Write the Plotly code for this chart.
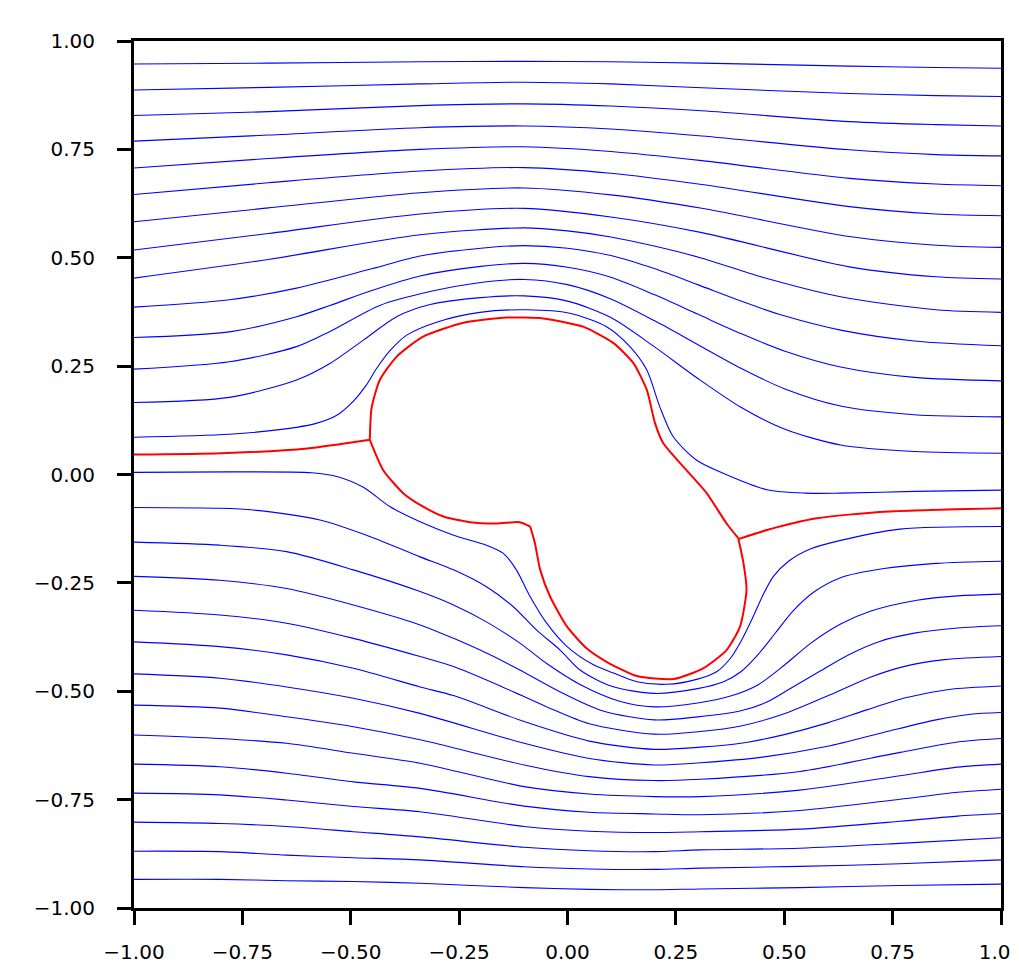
import plotly.graph_objects as go

# ---- tick labels ----
tick_values = [-1.0, -0.75, -0.5, -0.25, 0.0, 0.25, 0.5, 0.75, 1.0]
tick_labels = ["\u22121.00", "\u22120.75", "\u22120.50", "\u22120.25", "0.00", "0.25", "0.50", "0.75", "1.00"]

# ---- streamlines above the body ((x, y)) ----
upper_01 = [(-1, 0.947), (-0.69, 0.949), (-0.34, 0.952), (-0.1, 0.953), (0.1, 0.952), (0.31, 0.949), (0.65, 0.942), (0.85, 0.939), (1, 0.937)]
upper_02 = [(-1, 0.887), (-0.69, 0.893), (-0.34, 0.901), (-0.1, 0.905), (0.1, 0.901), (0.31, 0.892), (0.65, 0.879), (0.85, 0.874), (1, 0.872)]
upper_03 = [(-1, 0.828), (-0.69, 0.837), (-0.34, 0.851), (-0.1, 0.855), (0.1, 0.850), (0.31, 0.839), (0.65, 0.814), (0.85, 0.807), (1, 0.804)]
upper_04 = [(-1, 0.769), (-0.69, 0.783), (-0.34, 0.800), (-0.1, 0.804), (0.1, 0.797), (0.31, 0.781), (0.65, 0.749), (0.85, 0.738), (1, 0.735)]
upper_05 = [(-1, 0.707), (-0.69, 0.729), (-0.34, 0.750), (-0.1, 0.756), (0.1, 0.745), (0.31, 0.724), (0.65, 0.683), (0.85, 0.670), (1, 0.666)]
upper_06 = [(-1, 0.646), (-0.69, 0.673), (-0.34, 0.700), (-0.1, 0.708), (0.1, 0.695), (0.31, 0.669), (0.65, 0.618), (0.85, 0.601), (1, 0.597)]
upper_07 = [(-1, 0.583), (-0.69, 0.615), (-0.34, 0.650), (-0.1, 0.661), (0.1, 0.645), (0.31, 0.614), (0.65, 0.549), (0.85, 0.529), (1, 0.524)]
upper_08 = [(-1, 0.518), (-0.69, 0.556), (-0.34, 0.601), (-0.1, 0.614), (0.1, 0.594), (0.31, 0.558), (0.65, 0.479), (0.85, 0.456), (1, 0.451)]
upper_09 = [(-1, 0.453), (-0.69, 0.496), (-0.34, 0.553), (-0.1, 0.569), (0.0, 0.562), (0.1, 0.548), (0.2, 0.527),
            (0.31, 0.499), (0.45, 0.455), (0.63, 0.410), (0.85, 0.380), (1, 0.374)]
upper_10 = [(-1, 0.386), (-0.78, 0.403), (-0.625, 0.43), (-0.45, 0.475), (-0.34, 0.504), (-0.2, 0.522), (-0.1, 0.528),
            (0.0, 0.522), (0.1, 0.505), (0.2, 0.475), (0.3, 0.438), (0.4, 0.400), (0.5, 0.366), (0.63, 0.333),
            (0.8, 0.308), (1, 0.297)]
upper_11 = [(-1, 0.316), (-0.78, 0.329), (-0.625, 0.364), (-0.548, 0.39), (-0.45, 0.425), (-0.34, 0.458), (-0.2, 0.480),
            (-0.1, 0.487), (0.0, 0.478), (0.1, 0.455), (0.2, 0.415), (0.3, 0.370), (0.4, 0.325), (0.5, 0.285),
            (0.63, 0.248), (0.8, 0.224), (1, 0.216)]
upper_12 = [(-1, 0.243), (-0.78, 0.260), (-0.625, 0.295), (-0.548, 0.33), (-0.433, 0.39), (-0.317, 0.422), (-0.2, 0.443),
            (-0.1, 0.450), (0.0, 0.438), (0.1, 0.405), (0.2, 0.355), (0.3, 0.300), (0.4, 0.245), (0.5, 0.198),
            (0.63, 0.158), (0.8, 0.138), (1, 0.133)]
upper_13 = [(-1, 0.166), (-0.78, 0.178), (-0.625, 0.218), (-0.548, 0.256), (-0.471, 0.310), (-0.394, 0.364),
            (-0.317, 0.392), (-0.2, 0.408), (-0.1, 0.412), (0.0, 0.400), (0.1, 0.362), (0.2, 0.295), (0.3, 0.222),
            (0.4, 0.155), (0.5, 0.105), (0.63, 0.068), (0.8, 0.053), (1, 0.049)]
upper_14 = [(-1, 0.086), (-0.78, 0.093), (-0.66, 0.104), (-0.58, 0.118), (-0.53, 0.138), (-0.495, 0.168),
            (-0.465, 0.205), (-0.44, 0.245), (-0.41, 0.285), (-0.37, 0.322), (-0.30, 0.352), (-0.202, 0.374),
            (-0.094, 0.380), (0.005, 0.372), (0.09, 0.341), (0.144, 0.295), (0.183, 0.241), (0.213, 0.156),
            (0.244, 0.087), (0.298, 0.033), (0.359, 0.003), (0.46, -0.035), (0.55, -0.043), (0.63, -0.043),
            (0.8, -0.039), (1, -0.036)]

# ---- streamlines below the body ----
lower_00 = [(-1, 0.005), (-0.78, 0.006), (-0.59, 0.004), (-0.53, -0.005), (-0.47, -0.030), (-0.41, -0.074),
            (-0.34, -0.109), (-0.263, -0.140), (-0.187, -0.163), (-0.148, -0.182), (-0.118, -0.220), (-0.086, -0.282),
            (-0.048, -0.343), (-0.001, -0.397), (0.06, -0.439), (0.106, -0.458), (0.16, -0.478), (0.23, -0.484),
            (0.30, -0.472), (0.344, -0.455), (0.375, -0.425), (0.40, -0.385), (0.425, -0.335), (0.45, -0.28),
            (0.475, -0.235), (0.51, -0.20), (0.56, -0.172), (0.63, -0.152), (0.767, -0.126), (1, -0.120)]
lower_01 = [(-1, -0.076), (-0.8, -0.078), (-0.725, -0.082), (-0.571, -0.105), (-0.456, -0.143), (-0.34, -0.190),
            (-0.263, -0.220), (-0.187, -0.259), (-0.125, -0.305), (-0.071, -0.359), (-0.017, -0.405), (0.029, -0.451),
            (0.1, -0.488), (0.2, -0.505), (0.3, -0.494), (0.36, -0.478), (0.40, -0.455), (0.44, -0.415),
            (0.48, -0.365), (0.52, -0.315), (0.57, -0.27), (0.63, -0.238), (0.73, -0.217), (0.85, -0.205), (1, -0.200)]
lower_02 = [(-1, -0.156), (-0.802, -0.163), (-0.648, -0.178), (-0.494, -0.220), (-0.34, -0.270), (-0.263, -0.301),
            (-0.187, -0.340), (-0.11, -0.389), (-0.048, -0.436), (0.03, -0.485), (0.12, -0.523), (0.2, -0.536),
            (0.3, -0.527), (0.38, -0.51), (0.44, -0.485), (0.5, -0.44), (0.56, -0.39), (0.63, -0.345),
            (0.70, -0.315), (0.806, -0.29), (0.9, -0.280), (1, -0.276)]
lower_03 = [(-1, -0.235), (-0.802, -0.244), (-0.648, -0.263), (-0.494, -0.301), (-0.34, -0.347), (-0.263, -0.378),
            (-0.187, -0.412), (-0.11, -0.451), (-0.02, -0.50), (0.08, -0.545), (0.2, -0.566), (0.3, -0.559),
            (0.40, -0.545), (0.46, -0.525), (0.52, -0.49), (0.58, -0.455), (0.65, -0.415), (0.72, -0.385),
            (0.80, -0.366), (0.9, -0.354), (1, -0.349)]
lower_04 = [(-1, -0.313), (-0.802, -0.324), (-0.648, -0.343), (-0.494, -0.378), (-0.34, -0.420), (-0.263, -0.443),
            (-0.15, -0.49), (-0.05, -0.535), (0.05, -0.575), (0.2, -0.599), (0.306, -0.593), (0.40, -0.58),
            (0.50, -0.552), (0.613, -0.505), (0.70, -0.467), (0.78, -0.442), (0.87, -0.427), (1, -0.420)]
lower_05 = [(-1, -0.386), (-0.802, -0.397), (-0.648, -0.416), (-0.494, -0.447), (-0.34, -0.490), (-0.263, -0.51),
            (-0.1, -0.57), (0.05, -0.615), (0.2, -0.634), (0.306, -0.629), (0.40, -0.62), (0.50, -0.60),
            (0.60, -0.573), (0.69, -0.543), (0.78, -0.515), (0.88, -0.496), (1, -0.488)]
lower_06 = [(-1, -0.460), (-0.802, -0.470), (-0.648, -0.490), (-0.494, -0.516), (-0.34, -0.551), (-0.1, -0.62),
            (0.05, -0.655), (0.2, -0.670), (0.306, -0.665), (0.45, -0.652), (0.6, -0.627), (0.729, -0.595),
            (0.85, -0.566), (0.93, -0.553), (1, -0.549)]
lower_07 = [(-1, -0.532), (-0.802, -0.539), (-0.648, -0.559), (-0.494, -0.582), (-0.34, -0.612), (-0.1, -0.67),
            (0.05, -0.697), (0.2, -0.706), (0.306, -0.703), (0.536, -0.685), (0.767, -0.641), (0.9, -0.617), (1, -0.609)]
lower_08 = [(-1, -0.601), (-0.802, -0.609), (-0.648, -0.620), (-0.494, -0.643), (-0.34, -0.666), (-0.1, -0.72),
            (0.05, -0.737), (0.2, -0.743), (0.306, -0.743), (0.536, -0.728), (0.767, -0.695), (0.9, -0.675), (1, -0.668)]
lower_09 = [(-1, -0.668), (-0.802, -0.674), (-0.648, -0.689), (-0.494, -0.709), (-0.34, -0.724), (-0.1, -0.765),
            (0.05, -0.779), (0.2, -0.783), (0.306, -0.785), (0.536, -0.775), (0.767, -0.749), (0.9, -0.733), (1, -0.726)]
lower_10 = [(-1, -0.735), (-0.802, -0.739), (-0.648, -0.751), (-0.494, -0.766), (-0.34, -0.778), (-0.1, -0.812),
            (0.05, -0.823), (0.2, -0.826), (0.306, -0.824), (0.536, -0.818), (0.767, -0.800), (0.9, -0.788), (1, -0.782)]
lower_11 = [(-1, -0.802), (-0.802, -0.805), (-0.648, -0.812), (-0.494, -0.824), (-0.34, -0.836), (-0.1, -0.860),
            (0.05, -0.868), (0.2, -0.870), (0.306, -0.866), (0.536, -0.862), (0.767, -0.851), (1, -0.838)]
lower_12 = [(-1, -0.869), (-0.802, -0.870), (-0.648, -0.878), (-0.494, -0.884), (-0.34, -0.889), (-0.1, -0.905),
            (0.05, -0.910), (0.2, -0.911), (0.306, -0.908), (0.536, -0.904), (0.767, -0.898), (1, -0.889)]
lower_13 = [(-1, -0.934), (-0.802, -0.934), (-0.648, -0.937), (-0.494, -0.939), (-0.34, -0.943), (-0.1, -0.953),
            (0.05, -0.957), (0.2, -0.958), (0.306, -0.956), (0.536, -0.953), (0.767, -0.948), (1, -0.945)]

# ---- body outline and dividing streamlines (red) ----
body_upper = [(-0.456, 0.080), (-0.452, 0.153), (-0.433, 0.218), (-0.394, 0.272), (-0.333, 0.318), (-0.240, 0.350),
              (-0.140, 0.362), (-0.056, 0.360), (0.036, 0.341), (0.106, 0.303), (0.152, 0.257), (0.183, 0.195),
              (0.202, 0.118), (0.221, 0.072), (0.267, 0.018), (0.321, -0.043), (0.367, -0.113), (0.394, -0.147)]
body_lower = [(0.394, -0.147), (0.406, -0.205), (0.413, -0.266), (0.398, -0.351), (0.367, -0.405), (0.313, -0.447),
              (0.244, -0.472), (0.160, -0.465), (0.090, -0.432), (0.044, -0.401), (-0.001, -0.351), (-0.040, -0.282),
              (-0.063, -0.220), (-0.075, -0.159), (-0.086, -0.120)]
body_dent = [(-0.086, -0.120), (-0.110, -0.110), (-0.163, -0.113), (-0.225, -0.110), (-0.286, -0.097),
             (-0.340, -0.070), (-0.379, -0.043), (-0.425, 0.010), (-0.456, 0.080)]
divide_left = [(-1, 0.046), (-0.8, 0.049), (-0.6, 0.060), (-0.456, 0.080)]
divide_right = [(0.394, -0.149), (0.460, -0.128), (0.575, -0.101), (0.729, -0.086), (1, -0.078)]

blue_lines = [upper_01, upper_02, upper_03, upper_04, upper_05, upper_06, upper_07, upper_08, upper_09,
              upper_10, upper_11, upper_12, upper_13, upper_14,
              lower_00, lower_01, lower_02, lower_03, lower_04, lower_05, lower_06, lower_07, lower_08,
              lower_09, lower_10, lower_11, lower_12, lower_13]
red_lines = [body_upper, body_lower, body_dent, divide_left, divide_right]

fig = go.Figure()
for pts in blue_lines:
    fig.add_trace(go.Scatter(
        x=[p[0] for p in pts], y=[p[1] for p in pts], mode="lines",
        line=dict(color="#0000ff", width=1.1, shape="spline", smoothing=0.8),
        hoverinfo="skip", showlegend=False))
for pts in red_lines:
    fig.add_trace(go.Scatter(
        x=[p[0] for p in pts], y=[p[1] for p in pts], mode="lines",
        line=dict(color="#ff0000", width=2, shape="spline", smoothing=0.6),
        hoverinfo="skip", showlegend=False))

axis_common = dict(
    range=[-1, 1], tickmode="array", tickvals=tick_values, ticktext=tick_labels,
    showgrid=False, zeroline=False, showline=True, linecolor="black", linewidth=3, mirror=True,
    ticks="outside", ticklen=14, tickwidth=2.5, tickcolor="black", ticklabeloverflow="allow",
    automargin=False,
    tickfont=dict(family="DejaVu Sans", size=20, color="black"),
)
fig.update_xaxes(**axis_common, ticklabelstandoff=10)
fig.update_yaxes(**axis_common, ticklabelstandoff=18)

# the page body adds an 8 px margin, so the figure is sized/offset to land the
# plotting area at the same window pixels as the reference
fig.update_layout(
    width=1011, height=961, autosize=False,
    margin=dict(l=126, r=18, t=33, b=61, pad=0),
    plot_bgcolor="white", paper_bgcolor="white",
)

fig.write_html("out.html")
